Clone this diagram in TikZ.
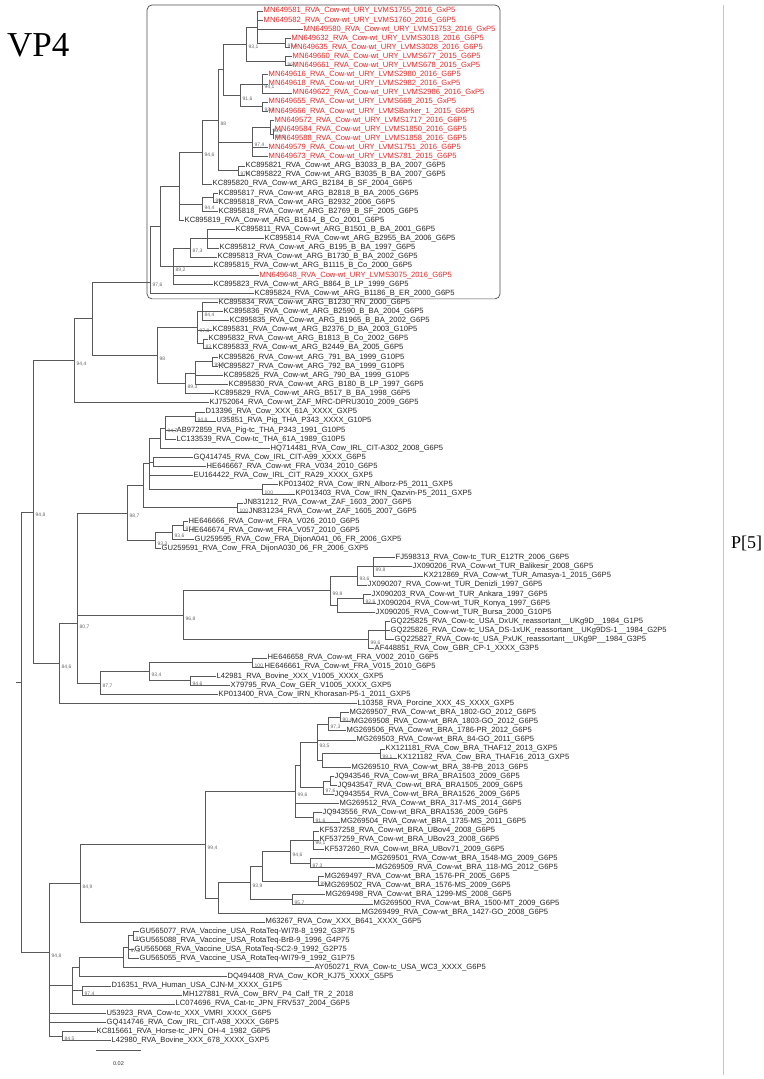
\documentclass[tikz,border=0pt]{standalone}
\usepackage{fontspec}
\newfontfamily\labfont{Liberation Sans}
\newfontfamily\titlefont{Liberation Serif}
\definecolor{leafred}{RGB}{232,38,38}
\tikzset{
  leaf/.style={anchor=west, inner sep=1pt, font=\labfont\fontsize{7.6}{8}\selectfont, text=black!85},
  uryleaf/.style={leaf, text=leafred},
  bs/.style={anchor=west, inner sep=0pt, font=\labfont\fontsize{5}{5}\selectfont, text=black!60},
}
\newcommand\bsl[2]{\node[bs] (bs#1) at ([xshift=2.5pt,yshift=-3.5pt]#1) {#2};}
\begin{document}
\begin{tikzpicture}[x=1pt, y=-9.11pt]
  \useasboundingbox (0,-0.2075) rectangle (763,118.23);
  \node[anchor=west, inner sep=0pt, font=\titlefont\fontsize{35}{35}\selectfont] (vp4) at (7,4.73) {VP4};
  \node[anchor=west, inner sep=0pt, font=\titlefont\fontsize{18}{18}\selectfont] (p5) at (731,59.4) {P[5]};
  \draw[black!22] (723,0.34) -- (723,117.8);
  \draw[black!70, line width=0.7pt, rounded corners=5pt] (147,0.34) rectangle (500,32.6);

  \node[uryleaf] (l1) at (262.5,1) {MN649581\_RVA\_Cow-wt\_URY\_LVMS1755\_2016\_GxP5};
  \node[uryleaf] (l2) at (262.5,2) {MN649582\_RVA\_Cow-wt\_URY\_LVMS1760\_2016\_G6P5};
  \node[uryleaf] (l3) at (302.5,3) {MN649580\_RVA\_Cow-wt\_URY\_LVMS1753\_2016\_GxP5};
  \node[uryleaf] (l4) at (290.5,4) {MN649632\_RVA\_Cow-wt\_URY\_LVMS3018\_2016\_G6P5};
  \node[uryleaf] (l5) at (289.5,5) {MN649635\_RVA\_Cow-wt\_URY\_LVMS3028\_2016\_G6P5};
  \node[uryleaf] (l6) at (291.5,6) {MN649660\_RVA\_Cow-wt\_URY\_LVMS677\_2015\_G6P5};
  \node[uryleaf] (l7) at (291.5,7) {MN649661\_RVA\_Cow-wt\_URY\_LVMS678\_2015\_GxP5};
  \node[uryleaf] (l8) at (267.5,8) {MN649616\_RVA\_Cow-wt\_URY\_LVMS2980\_2016\_G6P5};
  \node[uryleaf] (l9) at (267.5,9) {MN649618\_RVA\_Cow-wt\_URY\_LVMS2982\_2016\_GxP5};
  \node[uryleaf] (l10) at (291.5,10) {MN649622\_RVA\_Cow-wt\_URY\_LVMS2986\_2016\_GxP5};
  \node[uryleaf] (l11) at (267.5,11) {MN649655\_RVA\_Cow-wt\_URY\_LVMS669\_2015\_GxP5};
  \node[uryleaf] (l12) at (267.5,12) {MN649666\_RVA\_Cow-wt\_URY\_LVMSBarker\_1\_2015\_G6P5};
  \node[uryleaf] (l13) at (273.5,13) {MN649572\_RVA\_Cow-wt\_URY\_LVMS1717\_2016\_G6P5};
  \node[uryleaf] (l14) at (273.5,14) {MN649584\_RVA\_Cow-wt\_URY\_LVMS1850\_2016\_G6P5};
  \node[uryleaf] (l15) at (273.5,15) {MN649588\_RVA\_Cow-wt\_URY\_LVMS1858\_2016\_G6P5};
  \node[uryleaf] (l16) at (267.5,16) {MN649579\_RVA\_Cow-wt\_URY\_LVMS1751\_2016\_G6P5};
  \node[uryleaf] (l17) at (267.5,17) {MN649673\_RVA\_Cow-wt\_URY\_LVMS781\_2015\_G6P5};
  \node[leaf] (l18) at (244.5,18) {KC895821\_RVA\_Cow-wt\_ARG\_B3033\_B\_BA\_2007\_G6P5};
  \node[leaf] (l19) at (244.5,19) {KC895822\_RVA\_Cow-wt\_ARG\_B3035\_B\_BA\_2007\_G6P5};
  \node[leaf] (l20) at (211.5,20) {KC895820\_RVA\_Cow-wt\_ARG\_B2184\_B\_SF\_2004\_G6P5};
  \node[leaf] (l21) at (217.5,21) {KC895817\_RVA\_Cow-wt\_ARG\_B2818\_B\_BA\_2005\_G6P5};
  \node[leaf] (l22) at (217.5,22) {KC895818\_RVA\_Cow-wt\_ARG\_B2932\_2006\_G6P5};
  \node[leaf] (l23) at (217.5,23) {KC895818\_RVA\_Cow-wt\_ARG\_B2769\_B\_SF\_2005\_G6P5};
  \node[leaf] (l24) at (183.5,24) {KC895819\_RVA\_Cow-wt\_ARG\_B1614\_B\_Co\_2001\_G6P5};
  \node[leaf] (l25) at (234.5,25) {KC895811\_RVA\_Cow-wt\_ARG\_B1501\_B\_BA\_2001\_G6P5};
  \node[leaf] (l26) at (263.5,26) {KC895814\_RVA\_Cow-wt\_ARG\_B2955\_BA\_2006\_G6P5};
  \node[leaf] (l27) at (218.5,27) {KC895812\_RVA\_Cow-wt\_ARG\_B195\_B\_BA\_1997\_G6P5};
  \node[leaf] (l28) at (216.5,28) {KC895813\_RVA\_Cow-wt\_ARG\_B1730\_B\_BA\_2002\_G6P5};
  \node[leaf] (l29) at (212.5,29) {KC895815\_RVA\_Cow-wt\_ARG\_B1115\_B\_Co\_2000\_G6P5};
  \node[uryleaf] (l30) at (258.5,30) {MN649648\_RVA\_Cow-wt\_URY\_LVMS3075\_2016\_G6P5};
  \node[leaf] (l31) at (212.5,31) {KC895823\_RVA\_Cow-wt\_ARG\_B864\_B\_LP\_1999\_G6P5};
  \node[leaf] (l32) at (253.5,32) {KC895824\_RVA\_Cow-wt\_ARG\_B1186\_B\_ER\_2000\_G6P5};
  \node[leaf] (l33) at (217.5,33) {KC895834\_RVA\_Cow-wt\_ARG\_B1230\_RN\_2000\_G6P5};
  \node[leaf] (l34) at (222.5,34) {KC895836\_RVA\_Cow-wt\_ARG\_B2590\_B\_BA\_2004\_G6P5};
  \node[leaf] (l35) at (228.5,35) {KC895835\_RVA\_Cow-wt\_ARG\_B1965\_B\_BA\_2002\_G6P5};
  \node[leaf] (l36) at (211.5,36) {KC895831\_RVA\_Cow-wt\_ARG\_B2376\_D\_BA\_2003\_G10P5};
  \node[leaf] (l37) at (207.5,37) {KC895832\_RVA\_Cow-wt\_ARG\_B1813\_B\_Co\_2002\_G6P5};
  \node[leaf] (l38) at (211.5,38) {KC895833\_RVA\_Cow-wt\_ARG\_B2449\_BA\_2005\_G6P5};
  \node[leaf] (l39) at (217.5,39) {KC895826\_RVA\_Cow-wt\_ARG\_791\_BA\_1999\_G10P5};
  \node[leaf] (l40) at (217.5,40) {KC895827\_RVA\_Cow-wt\_ARG\_792\_BA\_1999\_G10P5};
  \node[leaf] (l41) at (222.5,41) {KC895825\_RVA\_Cow-wt\_ARG\_790\_BA\_1999\_G10P5};
  \node[leaf] (l42) at (227.5,42) {KC895830\_RVA\_Cow-wt\_ARG\_B180\_B\_LP\_1997\_G6P5};
  \node[leaf] (l43) at (213.5,43) {KC895829\_RVA\_Cow-wt\_ARG\_B517\_B\_BA\_1998\_G6P5};
  \node[leaf] (l44) at (208.5,44) {KJ752064\_RVA\_Cow-wt\_ZAF\_MRC-DPRU3010\_2009\_G6P5};
  \node[leaf] (l45) at (204.5,45) {D13396\_RVA\_Cow\_XXX\_61A\_XXXX\_GXP5};
  \node[leaf] (l46) at (215.5,46) {U35851\_RVA\_Pig\_THA\_P343\_XXXX\_G10P5};
  \node[leaf] (l47) at (175.5,47) {AB972859\_RVA\_Pig-tc\_THA\_P343\_1991\_G10P5};
  \node[leaf] (l48) at (175.5,48) {LC133539\_RVA\_Cow-tc\_THA\_61A\_1989\_G10P5};
  \node[leaf] (l49) at (269.5,49) {HQ714481\_RVA\_Cow\_IRL\_CIT-A302\_2008\_G6P5};
  \node[leaf] (l50) at (192.5,50) {GQ414745\_RVA\_Cow\_IRL\_CIT-A99\_XXXX\_G6P5};
  \node[leaf] (l51) at (205.5,51) {HE646667\_RVA\_Cow-wt\_FRA\_V034\_2010\_G6P5};
  \node[leaf] (l52) at (192.5,52) {EU164422\_RVA\_Cow\_IRL\_CIT\_RA29\_XXXX\_GXP5};
  \node[leaf] (l53) at (277.5,53) {KP013402\_RVA\_Cow\_IRN\_Alborz-P5\_2011\_GXP5};
  \node[leaf] (l54) at (294.5,54) {KP013403\_RVA\_Cow\_IRN\_Qazvin-P5\_2011\_GXP5};
  \node[leaf] (l55) at (242.5,55) {JN831212\_RVA\_Cow-wt\_ZAF\_1603\_2007\_G6P5};
  \node[leaf] (l56) at (247.5,56) {JN831234\_RVA\_Cow-wt\_ZAF\_1605\_2007\_G6P5};
  \node[leaf] (l57) at (187.5,57) {HE646666\_RVA\_Cow-wt\_FRA\_V026\_2010\_G6P5};
  \node[leaf] (l58) at (187.5,58) {HE646674\_RVA\_Cow-wt\_FRA\_V057\_2010\_G6P5};
  \node[leaf] (l59) at (193.5,59) {GU259595\_RVA\_Cow\_FRA\_DijonA041\_06\_FR\_2006\_GXP5};
  \node[leaf] (l60) at (160.5,60) {GU259591\_RVA\_Cow\_FRA\_DijonA030\_06\_FR\_2006\_GXP5};
  \node[leaf] (l61) at (394.5,61) {FJ598313\_RVA\_Cow-tc\_TUR\_E12TR\_2006\_G6P5};
  \node[leaf] (l62) at (411.5,62) {JX090206\_RVA\_Cow-wt\_TUR\_Balikesir\_2008\_G6P5};
  \node[leaf] (l63) at (422.5,63) {KX212869\_RVA\_Cow-wt\_TUR\_Amasya-1\_2015\_G6P5};
  \node[leaf] (l64) at (366.5,64) {JX090207\_RVA\_Cow-wt\_TUR\_Denizli\_1997\_G6P5};
  \node[leaf] (l65) at (370.5,65) {JX090203\_RVA\_Cow-wt\_TUR\_Ankara\_1997\_G6P5};
  \node[leaf] (l66) at (375.5,66) {JX090204\_RVA\_Cow-wt\_TUR\_Konya\_1997\_G6P5};
  \node[leaf] (l67) at (374.5,67) {JX090205\_RVA\_Cow-wt\_TUR\_Bursa\_2000\_G10P5};
  \node[leaf] (l68) at (389.5,68) {GQ225825\_RVA\_Cow-tc\_USA\_DxUK\_reassortant\_\_UKg9D\_\_1984\_G1P5};
  \node[leaf] (l69) at (389.5,69) {GQ225826\_RVA\_Cow-tc\_USA\_DS-1xUK\_reassortant\_\_UKg9DS-1\_\_1984\_G2P5};
  \node[leaf] (l70) at (393.5,70) {GQ225827\_RVA\_Cow-tc\_USA\_PxUK\_reassortant\_\_UKg9P\_\_1984\_G3P5};
  \node[leaf] (l71) at (373.5,71) {AF448851\_RVA\_Cow\_GBR\_CP-1\_XXXX\_G3P5};
  \node[leaf] (l72) at (266.5,72) {HE646658\_RVA\_Cow-wt\_FRA\_V002\_2010\_G6P5};
  \node[leaf] (l73) at (263.5,73) {HE646661\_RVA\_Cow-wt\_FRA\_V015\_2010\_G6P5};
  \node[leaf] (l74) at (215.5,74) {L42981\_RVA\_Bovine\_XXX\_V1005\_XXXX\_GXP5};
  \node[leaf] (l75) at (229.5,75) {X79795\_RVA\_Cow\_GER\_V1005\_XXXX\_GXP5};
  \node[leaf] (l76) at (217.5,76) {KP013400\_RVA\_Cow\_IRN\_Khorasan-P5-1\_2011\_GXP5};
  \node[leaf] (l77) at (356.5,77) {L10358\_RVA\_Porcine\_XXX\_4S\_XXXX\_GXP5};
  \node[leaf] (l78) at (348.5,78) {MG269507\_RVA\_Cow-wt\_BRA\_1802-GO\_2012\_G6P5};
  \node[leaf] (l79) at (350.5,79) {MG269508\_RVA\_Cow-wt\_BRA\_1803-GO\_2012\_G6P5};
  \node[leaf] (l80) at (345.5,80) {MG269506\_RVA\_Cow-wt\_BRA\_1786-PR\_2012\_G6P5};
  \node[leaf] (l81) at (355.5,81) {MG269503\_RVA\_Cow-wt\_BRA\_84-GO\_2011\_G6P5};
  \node[leaf] (l82) at (384.5,82) {KX121181\_RVA\_Cow\_BRA\_THAF12\_2013\_GXP5};
  \node[leaf] (l83) at (396.5,83) {KX121182\_RVA\_Cow\_BRA\_THAF16\_2013\_GXP5};
  \node[leaf] (l84) at (350.5,84) {MG269510\_RVA\_Cow-wt\_BRA\_38-PB\_2013\_G6P5};
  \node[leaf] (l85) at (333.5,85) {JQ943546\_RVA\_Cow-wt\_BRA\_BRA1503\_2009\_G6P5};
  \node[leaf] (l86) at (336.5,86) {JQ943547\_RVA\_Cow-wt\_BRA\_BRA1505\_2009\_G6P5};
  \node[leaf] (l87) at (333.5,87) {JQ943554\_RVA\_Cow-wt\_BRA\_BRA1526\_2009\_G6P5};
  \node[leaf] (l88) at (338.5,88) {MG269512\_RVA\_Cow-wt\_BRA\_317-MS\_2014\_G6P5};
  \node[leaf] (l89) at (321.5,89) {JQ943556\_RVA\_Cow-wt\_BRA\_BRA1536\_2009\_G6P5};
  \node[leaf] (l90) at (339.5,90) {MG269504\_RVA\_Cow-wt\_BRA\_1735-MS\_2011\_G6P5};
  \node[leaf] (l91) at (318.5,91) {KF537258\_RVA\_Cow-wt\_BRA\_UBov4\_2008\_G6P5};
  \node[leaf] (l92) at (318.5,92) {KF537259\_RVA\_Cow-wt\_BRA\_UBov23\_2008\_G6P5};
  \node[leaf] (l93) at (323.5,93) {KF537260\_RVA\_Cow-wt\_BRA\_UBov71\_2009\_G6P5};
  \node[leaf] (l94) at (369.5,94) {MG269501\_RVA\_Cow-wt\_BRA\_1548-MG\_2009\_G6P5};
  \node[leaf] (l95) at (374.5,95) {MG269509\_RVA\_Cow-wt\_BRA\_118-MG\_2012\_G6P5};
  \node[leaf] (l96) at (323.5,96) {MG269497\_RVA\_Cow-wt\_BRA\_1576-PR\_2005\_G6P5};
  \node[leaf] (l97) at (323.5,97) {MG269502\_RVA\_Cow-wt\_BRA\_1576-MS\_2009\_G6P5};
  \node[leaf] (l98) at (324.5,98) {MG269498\_RVA\_Cow-wt\_BRA\_1299-MS\_2008\_G6P5};
  \node[leaf] (l99) at (372.5,99) {MG269500\_RVA\_Cow-wt\_BRA\_1500-MT\_2009\_G6P5};
  \node[leaf] (l100) at (360.5,100) {MG269499\_RVA\_Cow-wt\_BRA\_1427-GO\_2008\_G6P5};
  \node[leaf] (l101) at (264.5,101) {M63267\_RVA\_Cow\_XXX\_B641\_XXXX\_G6P5};
  \node[leaf] (l102) at (138.5,102) {GU565077\_RVA\_Vaccine\_USA\_RotaTeq-WI78-8\_1992\_G3P75};
  \node[leaf] (l103) at (138.5,103) {GU565088\_RVA\_Vaccine\_USA\_RotaTeq-BrB-9\_1996\_G4P75};
  \node[leaf] (l104) at (133.5,104) {GU565068\_RVA\_Vaccine\_USA\_RotaTeq-SC2-9\_1992\_G2P75};
  \node[leaf] (l105) at (138.5,105) {GU565055\_RVA\_Vaccine\_USA\_RotaTeq-WI79-9\_1992\_G1P75};
  \node[leaf] (l106) at (313.5,106) {AY050271\_RVA\_Cow-tc\_USA\_WC3\_XXXX\_G6P5};
  \node[leaf] (l107) at (226.5,107) {DQ494408\_RVA\_Cow\_KOR\_KJ75\_XXXX\_G5P5};
  \node[leaf] (l108) at (110.5,108) {D16351\_RVA\_Human\_USA\_CJN-M\_XXXX\_G1P5};
  \node[leaf] (l109) at (181.5,109) {MH127881\_RVA\_Cow\_BRV\_P4\_Calf\_TR\_2\_2018};
  \node[leaf] (l110) at (174.5,110) {LC074696\_RVA\_Cat-tc\_JPN\_FRV537\_2004\_G6P5};
  \node[leaf] (l111) at (105.5,111) {U53923\_RVA\_Cow-tc\_XXX\_VMRI\_XXXX\_G6P5};
  \node[leaf] (l112) at (105.5,112) {GQ414746\_RVA\_Cow\_IRL\_CIT-A98\_XXXX\_G6P5};
  \node[leaf] (l113) at (95.5,113) {KC815661\_RVA\_Horse-tc\_JPN\_OH-4\_1982\_G6P5};
  \node[leaf] (l114) at (110.5,114) {L42980\_RVA\_Bovine\_XXX\_678\_XXXX\_GXP5};

  \coordinate (A1) at (257,2.75);
  \coordinate (N45) at (285,4.5);
  \coordinate (N67) at (285,6.5);
  \coordinate (B) at (246,4.625);
  \coordinate (N810) at (262,9);
  \coordinate (N1112) at (262,11.5);
  \coordinate (D) at (240,10.25);
  \coordinate (C) at (223,7.4375);
  \coordinate (N1415) at (273,14.5);
  \coordinate (N1315) at (270,13.75);
  \coordinate (E) at (252,15.375);
  \coordinate (N1819) at (238,18.5);
  \coordinate (F) at (218,12.97);
  \coordinate (G1) at (202,16.48);
  \coordinate (N2122) at (213,21.5);
  \coordinate (N2123) at (202,22.25);
  \coordinate (H1) at (179,20.24);
  \coordinate (P) at (207,26);
  \coordinate (Q) at (190,27);
  \coordinate (R) at (173,29);
  \coordinate (X) at (160,24.62);
  \coordinate (T) at (150,30.75);
  \coordinate (N3335) at (202,34);
  \coordinate (N3738) at (203,37.5);
  \coordinate (N3338) at (197,35.75);
  \coordinate (N3940) at (212,39.5);
  \coordinate (N3942) at (195,40.75);
  \coordinate (N3943) at (185,41.875);
  \coordinate (H) at (157,38.81);
  \coordinate (G) at (92,34.78);
  \coordinate (I) at (74,39.39);
  \coordinate (N4546) at (195,45.5);
  \coordinate (N4548) at (165,46.75);
  \coordinate (N4549) at (160,47.875);
  \coordinate (N5051) at (153,50.5);
  \coordinate (N5354) at (262,53.5);
  \coordinate (N4554) at (149,50.69);
  \coordinate (N5556) at (237,55.5);
  \coordinate (N4556) at (143,53.09);
  \coordinate (N5758) at (183,57.5);
  \coordinate (N5759) at (172,58.25);
  \coordinate (N5760) at (155,59.125);
  \coordinate (N98) at (127,56.11);
  \coordinate (N6163) at (373,62);
  \coordinate (N6164) at (357,63);
  \coordinate (N6566) at (363,65.5);
  \coordinate (N6567) at (337,66.25);
  \coordinate (NTUR) at (330,64.625);
  \coordinate (N6870) at (385,69);
  \coordinate (N6871) at (368,70);
  \coordinate (N968) at (183,67.31);
  \coordinate (N7273) at (252,72.5);
  \coordinate (N7475) at (190,74.5);
  \coordinate (N7275) at (149,73.5);
  \coordinate (N877) at (100,74.75);
  \coordinate (M) at (77,68.2);
  \coordinate (L1) at (59,72.6);
  \coordinate (J) at (33,56);
  \coordinate (N7879) at (340,78.5);
  \coordinate (N7880) at (328,79.25);
  \coordinate (N8283) at (380,82.5);
  \coordinate (N8284) at (322,83.25);
  \coordinate (N7884) at (317,81.25);
  \coordinate (N8586) at (330,85.5);
  \coordinate (N8587) at (323,86.25);
  \coordinate (N7887) at (300,83.75);
  \coordinate (N8990) at (313,89.5);
  \coordinate (N996) at (295,86.625);
  \coordinate (N9193) at (313,92);
  \coordinate (N9495) at (310,94.5);
  \coordinate (N9195) at (290,93.25);
  \coordinate (N9697) at (318,96.5);
  \coordinate (N9197) at (262,94.875);
  \coordinate (N9899) at (292,98.5);
  \coordinate (N939) at (250,96.69);
  \coordinate (N9400) at (218,98.34);
  \coordinate (N994) at (205,92.48);
  \coordinate (N849) at (80,96.74);
  \coordinate (N102103) at (133,102.5);
  \coordinate (N102105) at (128,103.75);
  \coordinate (N102106) at (123,104.875);
  \coordinate (N102107) at (79,105.94);
  \coordinate (N108109) at (82,108.5);
  \coordinate (N72) at (72,107.97);
  \coordinate (N113114) at (62,113.5);
  \coordinate (K) at (49,104.3);
  \coordinate (root) at (16,74.66);
  \coordinate (rootv) at (21,74.66);

  \begin{scope}[black!65, line width=0.55pt]
    \draw (A1) |- (l1) (A1) |- (l2) (A1) |- (l3) (A1) |- (N45);
    \draw (N45) |- (l4) (N45) |- (l5);
    \draw (N67) |- (l6) (N67) |- (l7);
    \draw (B) |- (A1) (B) |- (N67);
    \draw (N810) |- (l8) (N810) |- (l9) (N810) |- (l10);
    \draw (N1112) |- (l11) (N1112) |- (l12);
    \draw (D) |- (N810) (D) |- (N1112);
    \draw (C) |- (B) (C) |- (D);
    \draw (N1415) |- (l14) (N1415) |- (l15);
    \draw (N1315) |- (l13) (N1315) |- (N1415);
    \draw (E) |- (N1315) (E) |- (l16) (E) |- (l17);
    \draw (N1819) |- (l18) (N1819) |- (l19);
    \draw (F) |- (C) (F) |- (E) (F) |- (N1819);
    \draw (G1) |- (F) (G1) |- (l20);
    \draw (N2122) |- (l21) (N2122) |- (l22);
    \draw (N2123) |- (N2122) (N2123) |- (l23);
    \draw (H1) |- (G1) (H1) |- (N2123) (H1) |- (l24);
    \draw (P) |- (l25) (P) |- (l26) (P) |- (l27);
    \draw (Q) |- (P) (Q) |- (l28);
    \draw (R) |- (Q) (R) |- (l29) (R) |- (l30) (R) |- (l31);
    \draw (X) |- (H1) (X) |- (R);
    \draw (T) |- (X) (T) |- (l32);
    \draw (N3335) |- (l33) (N3335) |- (l34) (N3335) |- (l35);
    \draw (N3738) |- (l37) (N3738) |- (l38);
    \draw (N3338) |- (N3335) (N3338) |- (l36) (N3338) |- (N3738);
    \draw (N3940) |- (l39) (N3940) |- (l40);
    \draw (N3942) |- (N3940) (N3942) |- (l41) (N3942) |- (l42);
    \draw (N3943) |- (N3942) (N3943) |- (l43);
    \draw (H) |- (N3338) (H) |- (N3943);
    \draw (G) |- (T) (G) |- (H);
    \draw (I) |- (G) (I) |- (l44);
    \draw (N4546) |- (l45) (N4546) |- (l46);
    \draw (N4548) |- (N4546) (N4548) |- (l47) (N4548) |- (l48);
    \draw (N4549) |- (N4548) (N4549) |- (l49);
    \draw (N5051) |- (l50) (N5051) |- (l51);
    \draw (N5354) |- (l53) (N5354) |- (l54);
    \draw (N4554) |- (N4549) (N4554) |- (N5051) (N4554) |- (l52) (N4554) |- (N5354);
    \draw (N5556) |- (l55) (N5556) |- (l56);
    \draw (N4556) |- (N4554) (N4556) |- (N5556);
    \draw (N5758) |- (l57) (N5758) |- (l58);
    \draw (N5759) |- (N5758) (N5759) |- (l59);
    \draw (N5760) |- (N5759) (N5760) |- (l60);
    \draw (N98) |- (N4556) (N98) |- (N5760);
    \draw (N6163) |- (l61) (N6163) |- (l62) (N6163) |- (l63);
    \draw (N6164) |- (N6163) (N6164) |- (l64);
    \draw (N6566) |- (l65) (N6566) |- (l66);
    \draw (N6567) |- (N6566) (N6567) |- (l67);
    \draw (NTUR) |- (N6164) (NTUR) |- (N6567);
    \draw (N6870) |- (l68) (N6870) |- (l69) (N6870) |- (l70);
    \draw (N6871) |- (N6870) (N6871) |- (l71);
    \draw (N968) |- (NTUR) (N968) |- (N6871);
    \draw (N7273) |- (l72) (N7273) |- (l73);
    \draw (N7475) |- (l74) (N7475) |- (l75);
    \draw (N7275) |- (N7273) (N7275) |- (N7475);
    \draw (N877) |- (N7275) (N877) |- (l76);
    \draw (M) |- (N98) (M) |- (N968) (M) |- (N877);
    \draw (L1) |- (M) (L1) |- (l77);
    \draw (J) |- (I) (J) |- (L1);
    \draw (N7879) |- (l78) (N7879) |- (l79);
    \draw (N7880) |- (N7879) (N7880) |- (l80);
    \draw (N8283) |- (l82) (N8283) |- (l83);
    \draw (N8284) |- (N8283) (N8284) |- (l84);
    \draw (N7884) |- (N7880) (N7884) |- (l81) (N7884) |- (N8284);
    \draw (N8586) |- (l85) (N8586) |- (l86);
    \draw (N8587) |- (N8586) (N8587) |- (l87);
    \draw (N7887) |- (N7884) (N7887) |- (N8587);
    \draw (N8990) |- (l89) (N8990) |- (l90);
    \draw (N996) |- (N7887) (N996) |- (l88) (N996) |- (N8990);
    \draw (N9193) |- (l91) (N9193) |- (l92) (N9193) |- (l93);
    \draw (N9495) |- (l94) (N9495) |- (l95);
    \draw (N9195) |- (N9193) (N9195) |- (N9495);
    \draw (N9697) |- (l96) (N9697) |- (l97);
    \draw (N9197) |- (N9195) (N9197) |- (N9697);
    \draw (N9899) |- (l98) (N9899) |- (l99);
    \draw (N939) |- (N9197) (N939) |- (N9899);
    \draw (N9400) |- (N939) (N9400) |- (l100);
    \draw (N994) |- (N996) (N994) |- (N9400);
    \draw (N849) |- (N994) (N849) |- (l101);
    \draw (N102103) |- (l102) (N102103) |- (l103);
    \draw (N102105) |- (N102103) (N102105) |- (l104) (N102105) |- (l105);
    \draw (N102106) |- (N102105) (N102106) |- (l106);
    \draw (N102107) |- (N102106) (N102107) |- (l107);
    \draw (N108109) |- (l108) (N108109) |- (l109);
    \draw (N72) |- (N102107) (N72) |- (N108109) (N72) |- (l110);
    \draw (N113114) |- (l113) (N113114) |- (l114);
    \draw (K) |- (N849) (K) |- (N72) (K) |- (l111) (K) |- (l112) (K) |- (N113114);
    \draw (root) -- (rootv);
    \draw (rootv) |- (J) (rootv) |- (K);
  \end{scope}

  \bsl{N45}{97,6} \bsl{N67}{96,7} \bsl{B}{93,1} \bsl{N810}{94,1} \bsl{N1112}{93,6}
  \bsl{D}{91,6} \bsl{N1415}{88,8} \bsl{N1315}{93,6} \bsl{E}{97,4} \bsl{F}{88}
  \bsl{N1819}{97,3} \bsl{G1}{94,6} \bsl{N2122}{99} \bsl{N2123}{94,4} \bsl{Q}{87,3}
  \bsl{R}{89,2} \bsl{T}{97,6}
  \bsl{N3335}{84,4} \bsl{N3738}{83} \bsl{N3338}{97,8} \bsl{N3940}{99,8} \bsl{N3943}{89,3}
  \bsl{H}{98} \bsl{I}{94,4} \bsl{J}{94,8}
  \bsl{N4546}{94,8} \bsl{N4548}{94,7} \bsl{N5354}{100} \bsl{N5556}{100} \bsl{N98}{98,7}
  \bsl{N5758}{97,2} \bsl{N5759}{93,6} \bsl{N5760}{93,3}
  \bsl{N6163}{89,8} \bsl{N6164}{93,6} \bsl{NTUR}{99,8} \bsl{N6566}{92,6} \bsl{N968}{96,8}
  \bsl{N6871}{99,6} \bsl{M}{80,7} \bsl{L1}{84,6} \bsl{N877}{87,7} \bsl{N7275}{93,4}
  \bsl{N7273}{100} \bsl{N7475}{94,6}
  \bsl{N7879}{90,4} \bsl{N7880}{97,3} \bsl{N7884}{93,5} \bsl{N8283}{99,1} \bsl{N8587}{97,6}
  \bsl{N996}{99,6} \bsl{N8990}{91,6} \bsl{N9193}{96,1} \bsl{N9195}{94,6} \bsl{N9495}{87,3}
  \bsl{N9697}{99,7} \bsl{N939}{93,9} \bsl{N9899}{95,7} \bsl{N994}{99,4} \bsl{N849}{84,9}
  \bsl{K}{94,8} \bsl{N102103}{91} \bsl{N102105}{97,1} \bsl{N108109}{97,4} \bsl{N113114}{84,5}

  \coordinate (sb1) at (96,115.05);
  \coordinate (sb2) at (141,115.05);
  \draw[black!65, line width=0.55pt] (sb1) -- (sb2);
  \node[font=\labfont\fontsize{5.5}{6}\selectfont, text=black!80, inner sep=0pt] (sbl) at (118.5,116.55) {0.02};
\end{tikzpicture}
\end{document}
